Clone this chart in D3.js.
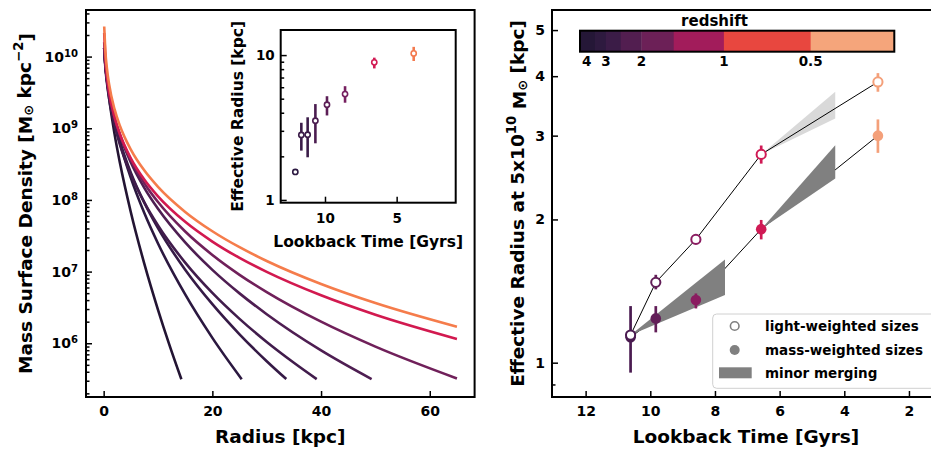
<!DOCTYPE html>
<html><head><meta charset="utf-8">
<script src="https://cdn.jsdelivr.net/npm/d3@7"></script>
<style>
body{margin:0;background:#fff}
svg{display:block}
text{font-family:"DejaVu Sans",sans-serif;font-weight:bold;fill:#000}
</style>
</head><body>
<svg id="c" width="931" height="449"></svg>
<script>
// ---------------- DATA ----------------
// Left panel: mass surface density profiles (radius in kpc, log10 density)
const profileRadii = [
  [0.1,0.3,0.6,1,2,3,5,7.5,10,12,14.3],
  [0.1,0.3,0.6,1,2,3,5,7.5,10,15,20,25.4],
  [0.1,0.3,0.6,1,2,3,5,7.5,10,15,20,25,30,33.6],
  [0.1,0.3,0.6,1,2,3,5,7.5,10,15,20,25,30,35,39.2],
  [0.1,0.3,0.6,1,2,3,5,7.5,10,15,20,25,30,40,49.3],
  [0.1,0.3,0.6,1,2,3,5,7.5,10,15,20,25,30,40,50,65],
  [0.1,0.3,0.6,1,2,3,5,7.5,10,15,20,25,30,40,50,65],
  [0.1,0.3,0.6,1,2,3,5,7.5,10,15,20,25,30,40,50,65]
];
const profileLogDensity = [
  [10.12,9.905,9.671,9.420,8.922,8.514,7.828,7.104,6.467,5.999,5.497],
  [10.12,9.912,9.704,9.494,9.102,8.797,8.307,7.813,7.392,6.681,6.075,5.498],
  [10.12,9.891,9.675,9.467,9.094,8.815,8.381,7.958,7.606,7.026,6.545,6.125,5.749,5.500],
  [10.12,9.863,9.632,9.415,9.041,8.768,8.356,7.962,7.643,7.125,6.702,6.340,6.018,5.728,5.500],
  [10.12,9.887,9.678,9.481,9.142,8.896,8.522,8.165,7.876,7.407,7.024,6.696,6.405,5.900,5.500],
  [10.20,9.929,9.700,9.493,9.150,8.910,8.557,8.230,7.970,7.559,7.232,6.955,6.714,6.301,5.953,5.509],
  [10.33,9.996,9.734,9.509,9.154,8.916,8.580,8.281,8.050,7.694,7.419,7.191,6.996,6.669,6.398,6.060],
  [10.42,10.092,9.835,9.614,9.266,9.032,8.703,8.409,8.182,7.833,7.563,7.340,7.148,6.827,6.561,6.230]
];
const profileColors = ["#231433","#2b1840","#351a46","#411c4c","#4e1e52","#70205a","#d2194f","#f57c4b"];
const radiusTicks = [0,20,40,60];
const densityMajorTicks = [1e6,1e7,1e8,1e9,1e10];

// Inset: effective radius vs lookback time
const insetTime = [12.07,11.65,11.21,10.67,9.86,8.60,6.56,3.81];
const insetRe   = [1.56,2.81,2.82,3.52,4.54,5.38,8.91,10.27];
const insetLo   = [1.52,2.19,1.97,2.46,3.83,4.69,8.09,9.10];
const insetHi   = [1.60,3.41,3.72,4.59,5.20,6.10,9.60,11.40];
const insetColors = ["#2d1a42","#3b1c49","#3b1c49","#4b1d50","#5c1e56","#762060","#d11b54","#f37a4f"];
const insetXTicks = [10,5];
const insetYMajor = [1,10];

// Right panel: effective radius at 5x10^10 Msun
const lbTime  = [10.61,9.83,8.59,6.57,2.96];
const lightRe = [1.143,1.475,1.816,2.74,3.89];
const lightLo = [1.12,1.426,1.79,2.62,3.71];
const lightHi = [1.17,1.53,1.84,2.86,4.06];
const massRe  = [1.131,1.239,1.354,1.908,3.0];
const massLo  = [0.953,1.158,1.30,1.816,2.76];
const massHi  = [1.315,1.315,1.398,1.995,3.245];
const binColors = ["#4a1b50","#621e58","#8a1c60","#d01a55","#f4a07a"];
const timeTicks = [12,10,8,6,4,2];
const reLabelTicks = [1,2,3,4,5];
const reMinorTicks = [0.9];

// Minor merging bands (start time, end time, start radius, end low, end high)
const bandStart   = [6.57,10.61,6.57];
const bandEnd     = [4.28,7.69,4.28];
const bandStartRe = [2.74,1.143,1.908];
const bandEndLo   = [3.26,1.387,2.438];
const bandEndHi   = [3.71,1.648,2.864];
const bandFill    = ["#d9d9d9","#808080","#808080"];

// Colorbar (lookback-time boundaries) and redshift tick labels
const cbBounds = [12.41,11.94,11.59,11.12,10.46,9.44,7.85,5.10,2.45];
const cbColors = ["#251737","#2e1a3f","#3b1c47","#521e50","#6c2057","#a21c5b","#e8473f","#f5a57b"];
const cbTickTime = [12.2,11.59,10.46,7.85,5.10];
const cbTickLabel = ["4","3","2","1","0.5"];

// ---------------- DRAW ----------------
const svg = d3.select("#c");
const FONT = '"DejaVu Sans", sans-serif';

function styleAxis(g, size){
  g.attr("font-family", FONT).attr("font-size", size).attr("font-weight","bold");
  g.select(".domain").remove();
  g.selectAll(".tick line").attr("stroke","#000").attr("stroke-width",1.5);
  g.selectAll(".tick text").attr("fill","#000");
}

// ===== Left panel =====
const L = {x0:86, x1:474.6, y0:10, y1:397};
const xR = d3.scaleLinear().domain([-3.25,68.25]).range([L.x0,L.x1]);
const yD = d3.scaleLog().domain([Math.pow(10,5.25),Math.pow(10,10.65)]).range([L.y1,L.y0]);

const line = d3.line().x(d=>xR(d[0])).y(d=>yD(Math.pow(10,d[1]))).curve(d3.curveMonotoneX);
const gCurves = svg.append("g");
profileRadii.forEach((rs,i)=>{
  const pts = rs.map((r,j)=>[r, profileLogDensity[i][j]]);
  gCurves.append("path").attr("d", line(pts)).attr("fill","none")
    .attr("stroke", profileColors[i]).attr("stroke-width",2.6).attr("stroke-linecap","butt");
});

// axes
const gxL = svg.append("g").attr("transform",`translate(0,${L.y1})`)
  .call(d3.axisBottom(xR).tickValues(radiusTicks).tickSizeInner(-6).tickSizeOuter(0).tickPadding(9).tickFormat(d3.format("d")));
styleAxis(gxL, 14);

const yAllTicks = yD.ticks();
const yMinor = yAllTicks.filter(v=>Math.abs(Math.log10(v)-Math.round(Math.log10(v)))>1e-6);
const gyLm = svg.append("g").attr("transform",`translate(${L.x0},0)`)
  .call(d3.axisLeft(yD).tickValues(yMinor).tickSizeInner(-3.5).tickSizeOuter(0).tickFormat(""));
styleAxis(gyLm, 14);
const gyL = svg.append("g").attr("transform",`translate(${L.x0},0)`)
  .call(d3.axisLeft(yD).tickValues(densityMajorTicks).tickSizeInner(-6).tickSizeOuter(0).tickPadding(8).tickFormat(""));
styleAxis(gyL, 14);
gyL.selectAll(".tick text").each(function(d){
  const t = d3.select(this);
  t.append("tspan").text("10");
  t.append("tspan").attr("dy","-0.5em").attr("font-size","0.72em").text(Math.round(Math.log10(d)));
});

svg.append("rect").attr("x",L.x0).attr("y",L.y0).attr("width",L.x1-L.x0).attr("height",L.y1-L.y0)
  .attr("fill","none").attr("stroke","#000").attr("stroke-width",2);

svg.append("text").attr("x",(L.x0+L.x1)/2).attr("y",443).attr("text-anchor","middle")
  .attr("font-size",18.5).text("Radius [kpc]");
{
  const t = svg.append("text").attr("transform",`translate(25,${(L.y0+L.y1)/2}) rotate(-90)`)
    .attr("text-anchor","middle").attr("dominant-baseline","central").attr("font-size",18.5);
  t.append("tspan").text("Mass Surface Density [M");
  t.append("tspan").attr("dy","0.25em").attr("font-size","0.7em").text("⊙");
  t.append("tspan").attr("dy","-0.25em").text(" kpc");
  t.append("tspan").attr("dy","-0.45em").attr("font-size","0.72em").text("−2");
  t.append("tspan").attr("dy","0.45em").text("]");
}

// ===== Inset =====
const I = {x0:280.7, x1:455.7, y0:30, y1:202.7};
const xI = d3.scaleLinear().domain([13.09,0.88]).range([I.x0,I.x1]);
const yI = d3.scaleLog().domain([0.957,14.9]).range([I.y1,I.y0]);
svg.append("rect").attr("x",I.x0).attr("y",I.y0).attr("width",I.x1-I.x0).attr("height",I.y1-I.y0).attr("fill","#fff");
const gIn = svg.append("g");
insetTime.forEach((t,i)=>{
  gIn.append("line").attr("x1",xI(t)).attr("x2",xI(t)).attr("y1",yI(insetLo[i])).attr("y2",yI(insetHi[i]))
    .attr("stroke",insetColors[i]).attr("stroke-width",2.6);
});
insetTime.forEach((t,i)=>{
  gIn.append("circle").attr("cx",xI(t)).attr("cy",yI(insetRe[i])).attr("r",2.6)
    .attr("fill","#fff").attr("stroke",insetColors[i]).attr("stroke-width",1.6);
});
const gxI = svg.append("g").attr("transform",`translate(0,${I.y1})`)
  .call(d3.axisBottom(xI).tickValues(insetXTicks).tickSizeInner(-6).tickSizeOuter(0).tickPadding(11).tickFormat(d3.format("d")));
styleAxis(gxI, 13.5);
const yIall = yI.ticks();
const yImin = yIall.filter(v=>!insetYMajor.includes(v));
const gyIm = svg.append("g").attr("transform",`translate(${I.x0},0)`)
  .call(d3.axisLeft(yI).tickValues(yImin).tickSizeInner(-3.5).tickSizeOuter(0).tickFormat(""));
styleAxis(gyIm, 13.5);
const gyI = svg.append("g").attr("transform",`translate(${I.x0},0)`)
  .call(d3.axisLeft(yI).tickValues(insetYMajor).tickSizeInner(-6).tickSizeOuter(0).tickPadding(6).tickFormat(d3.format("d")));
styleAxis(gyI, 13.5);
svg.append("rect").attr("x",I.x0).attr("y",I.y0).attr("width",I.x1-I.x0).attr("height",I.y1-I.y0)
  .attr("fill","none").attr("stroke","#000").attr("stroke-width",2);
svg.append("text").attr("x",(I.x0+I.x1)/2).attr("y",247).attr("text-anchor","middle")
  .attr("font-size",15.5).text("Lookback Time [Gyrs]");
svg.append("text").attr("transform",`translate(238,${(I.y0+I.y1)/2}) rotate(-90)`)
  .attr("text-anchor","middle").attr("dominant-baseline","central").attr("font-size",15.5).text("Effective Radius [kpc]");

// ===== Right panel =====
const R = {x0:552, x1:940, y0:10, y1:397};
const xT = d3.scaleLinear().domain([13.04,1.04]).range([R.x0,R.x1]);
const yR = d3.scaleLog().domain([0.847,5.51]).range([R.y1,R.y0]);

const area = d3.area().x(d=>xT(d.t)).y0(d=>yR(d.lo)).y1(d=>yR(d.hi));
function band(i){
  return [{t:bandStart[i],lo:bandStartRe[i],hi:bandStartRe[i]},{t:bandEnd[i],lo:bandEndLo[i],hi:bandEndHi[i]}];
}
const gR = svg.append("g");
// light band first
gR.append("path").attr("d",area(band(0))).attr("fill",bandFill[0]);
// connecting lines
const lineR = d3.line().x((d,i)=>xT(lbTime[i])).y(d=>yR(d));
gR.append("path").attr("d",lineR(lightRe)).attr("fill","none").attr("stroke","#000").attr("stroke-width",1);
gR.append("path").attr("d",lineR(massRe)).attr("fill","none").attr("stroke","#000").attr("stroke-width",1);
// dark bands
[1,2].forEach(i=>gR.append("path").attr("d",area(band(i))).attr("fill",bandFill[i]));
// mass-weighted
lbTime.forEach((t,i)=>{
  gR.append("line").attr("x1",xT(t)).attr("x2",xT(t)).attr("y1",yR(massLo[i])).attr("y2",yR(massHi[i]))
    .attr("stroke",binColors[i]).attr("stroke-width",2.7);
  gR.append("circle").attr("cx",xT(t)).attr("cy",yR(massRe[i])).attr("r",5.3).attr("fill",binColors[i]);
});
// light-weighted
lbTime.forEach((t,i)=>{
  gR.append("line").attr("x1",xT(t)).attr("x2",xT(t)).attr("y1",yR(lightLo[i])).attr("y2",yR(lightHi[i]))
    .attr("stroke",binColors[i]).attr("stroke-width",2.7);
  gR.append("circle").attr("cx",xT(t)).attr("cy",yR(lightRe[i])).attr("r",4.6)
    .attr("fill","#fff").attr("stroke",binColors[i]).attr("stroke-width",2);
});

const gxR = svg.append("g").attr("transform",`translate(0,${R.y1})`)
  .call(d3.axisBottom(xT).tickValues(timeTicks).tickSizeInner(-6).tickSizeOuter(0).tickPadding(9).tickFormat(d3.format("d")));
styleAxis(gxR, 14);
const gyRm = svg.append("g").attr("transform",`translate(${R.x0},0)`)
  .call(d3.axisLeft(yR).tickValues(reMinorTicks).tickSizeInner(-3.5).tickSizeOuter(0).tickFormat(""));
styleAxis(gyRm, 14);
const gyR = svg.append("g").attr("transform",`translate(${R.x0},0)`)
  .call(d3.axisLeft(yR).tickValues(reLabelTicks).tickSizeInner(-6).tickSizeOuter(0).tickPadding(7).tickFormat(d3.format("d")));
styleAxis(gyR, 14);
svg.append("rect").attr("x",R.x0).attr("y",R.y0).attr("width",R.x1-R.x0).attr("height",R.y1-R.y0)
  .attr("fill","none").attr("stroke","#000").attr("stroke-width",2);

svg.append("text").attr("x",(R.x0+R.x1)/2).attr("y",443).attr("text-anchor","middle")
  .attr("font-size",18.5).text("Lookback Time [Gyrs]");
{
  const t = svg.append("text").attr("transform",`translate(516.5,${(R.y0+R.y1)/2}) rotate(-90)`)
    .attr("text-anchor","middle").attr("dominant-baseline","central").attr("font-size",18.5);
  t.append("tspan").text("Effective Radius at 5x10");
  t.append("tspan").attr("dy","-0.45em").attr("font-size","0.72em").text("10");
  t.append("tspan").attr("dy","0.45em").text(" M");
  t.append("tspan").attr("dy","0.25em").attr("font-size","0.7em").text("⊙");
  t.append("tspan").attr("dy","-0.25em").text(" [kpc]");
}

// Colorbar
const cb = d3.scaleLinear().domain([cbBounds[0], cbBounds[cbBounds.length-1]]).range([580,894.3]);
const cbY0 = 30.7, cbY1 = 51.7;
cbColors.forEach((c,i)=>{
  svg.append("rect").attr("x",cb(cbBounds[i])).attr("y",cbY0)
    .attr("width",cb(cbBounds[i+1])-cb(cbBounds[i])+0.3).attr("height",cbY1-cbY0).attr("fill",c);
});
svg.append("rect").attr("x",580).attr("y",cbY0).attr("width",894.3-580).attr("height",cbY1-cbY0)
  .attr("fill","none").attr("stroke","#000").attr("stroke-width",2);
cbTickTime.forEach((t,i)=>{
  svg.append("text").attr("x",cb(t)).attr("y",66).attr("text-anchor","middle").attr("font-size",13.5).text(cbTickLabel[i]);
});
svg.append("text").attr("x",714.5).attr("y",25.5).attr("text-anchor","middle").attr("font-size",15).text("redshift");

// Legend
const lg = svg.append("g");
lg.append("rect").attr("x",712.7).attr("y",314).attr("width",232).attr("height",74.3).attr("rx",4)
  .attr("fill","#fff").attr("fill-opacity",0.85).attr("stroke","#d0d0d0").attr("stroke-width",1);
lg.append("circle").attr("cx",734.7).attr("cy",326).attr("r",4.3).attr("fill","#fff").attr("stroke","#808080").attr("stroke-width",1.6);
lg.append("circle").attr("cx",734.7).attr("cy",350).attr("r",5).attr("fill","#808080");
lg.append("rect").attr("x",719).attr("y",367.3).attr("width",32.7).attr("height",11).attr("fill","#808080");
[["light-weighted sizes",326],["mass-weighted sizes",350],["minor merging",373]].forEach(([s,y])=>{
  lg.append("text").attr("x",765).attr("y",y).attr("dominant-baseline","central").attr("font-size",13.5).text(s);
});
</script>
</body></html>
